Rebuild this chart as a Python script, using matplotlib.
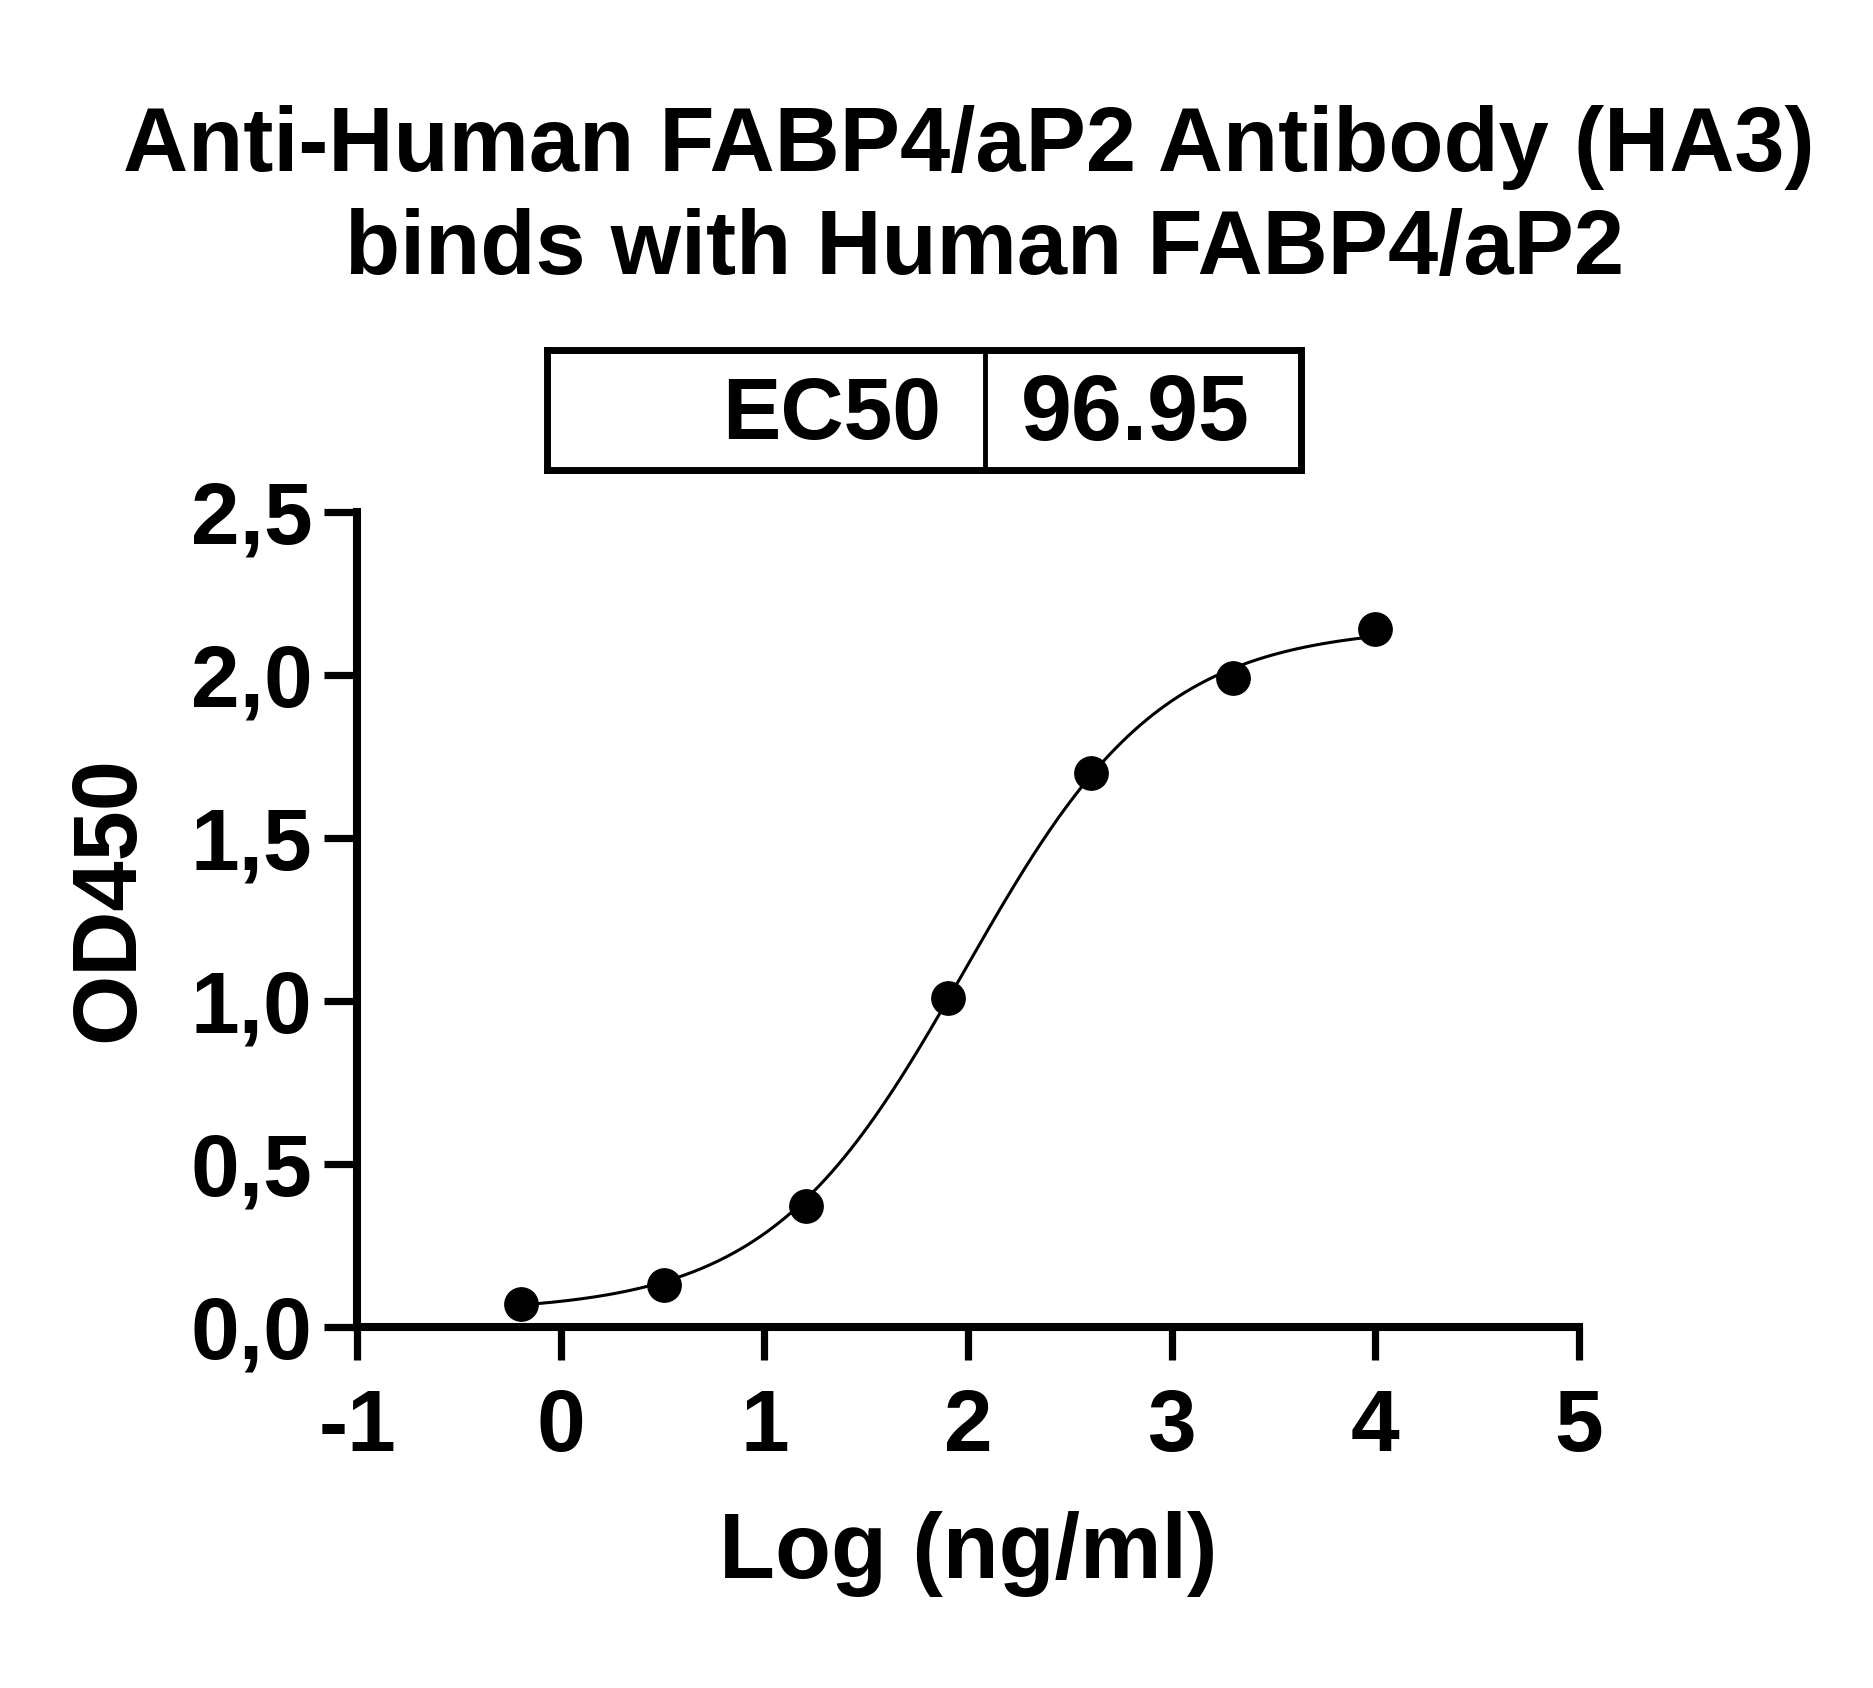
import numpy as np
import matplotlib
matplotlib.use("Agg")
import matplotlib.pyplot as plt

# ---- data ----
log_conc = [4.0, 3.301, 2.602, 1.903, 1.204, 0.505, -0.194]
od450 = [2.14, 1.99, 1.70, 1.01, 0.37, 0.13, 0.07]
ec50 = 96.95
fit_bottom = 0.045
fit_top = 2.15
fit_hill = 0.9
x_ticks = [-1, 0, 1, 2, 3, 4, 5]
y_ticks = [0.0, 0.5, 1.0, 1.5, 2.0, 2.5]
y_tick_labels = ["0,0", "0,5", "1,0", "1,5", "2,0", "2,5"]
title_lines = ["Anti-Human FABP4/aP2 Antibody (HA3)", "binds with Human FABP4/aP2"]

plt.rcParams['font.family'] = ['Liberation Sans', 'DejaVu Sans']
plt.rcParams['font.weight'] = 'bold'

W, H = 1873, 1688
fig = plt.figure(figsize=(W / 100, H / 100), dpi=100)

def fx(px):
    return px / W

def fy(py):
    return 1 - py / H

# main axes
left, right, top, bottom = 357, 1579, 512, 1327
ax = fig.add_axes([fx(left), fy(bottom), fx(right - left), (bottom - top) / H])
ax.set_xlim(-1, 5)
ax.set_ylim(0, 2.5)

xs = np.linspace(min(log_conc), max(log_conc), 400)
log_ec50 = np.log10(ec50)
curve = fit_bottom + (fit_top - fit_bottom) / (1 + 10 ** ((log_ec50 - xs) * fit_hill))
ax.plot(xs, curve, color='black', lw=2.2, zorder=3, clip_on=False)
ax.plot(log_conc, od450, 'o', color='black', ms=24, zorder=4, clip_on=False)

for s in ['top', 'right']:
    ax.spines[s].set_visible(False)
for s in ['left', 'bottom']:
    ax.spines[s].set_linewidth(5.8)
ax.set_xticks(x_ticks)
ax.set_xticklabels([str(t) for t in x_ticks])
ax.set_yticks(y_ticks)
ax.set_yticklabels(y_tick_labels)
ax.tick_params(axis='both', direction='out', length=24, width=5.2, labelsize=63)
ax.tick_params(axis='x', pad=20)
ax.tick_params(axis='y', pad=8)
for lab in ax.get_xticklabels() + ax.get_yticklabels():
    lab.set_fontweight('bold')

ax.set_xlabel("Log (ng/ml)", fontsize=66, fontweight='bold', labelpad=30)
fig.text(fx(110), fy(899), "OD450", rotation=90, ha='center', va='center',
         rotation_mode='anchor', fontsize=65, fontweight='bold')

# title
fig.text(fx(969), fy(148), title_lines[0], ha='center', va='center', fontsize=65, fontweight='bold')
fig.text(fx(985), fy(251), title_lines[1], ha='center', va='center', fontsize=65, fontweight='bold')

# EC50 box
bl, br, bt, bb = 547, 1301, 350, 470
bax = fig.add_axes([fx(bl), fy(bb), fx(br - bl), (bb - bt) / H])
bax.set_xlim(bl, br)
bax.set_ylim(0, 1)
bax.set_xticks([])
bax.set_yticks([])
for s in bax.spines.values():
    s.set_linewidth(5.0)
bax.axvline(985, color='black', lw=3.5)
bax.text(941, 0.45, "EC50", ha='right', va='center', fontsize=63, fontweight='bold')
bax.text(1135, 0.45, f"{ec50:.2f}", ha='center', va='center', fontsize=66, fontweight='bold')

fig.savefig("out.png", dpi=100)
